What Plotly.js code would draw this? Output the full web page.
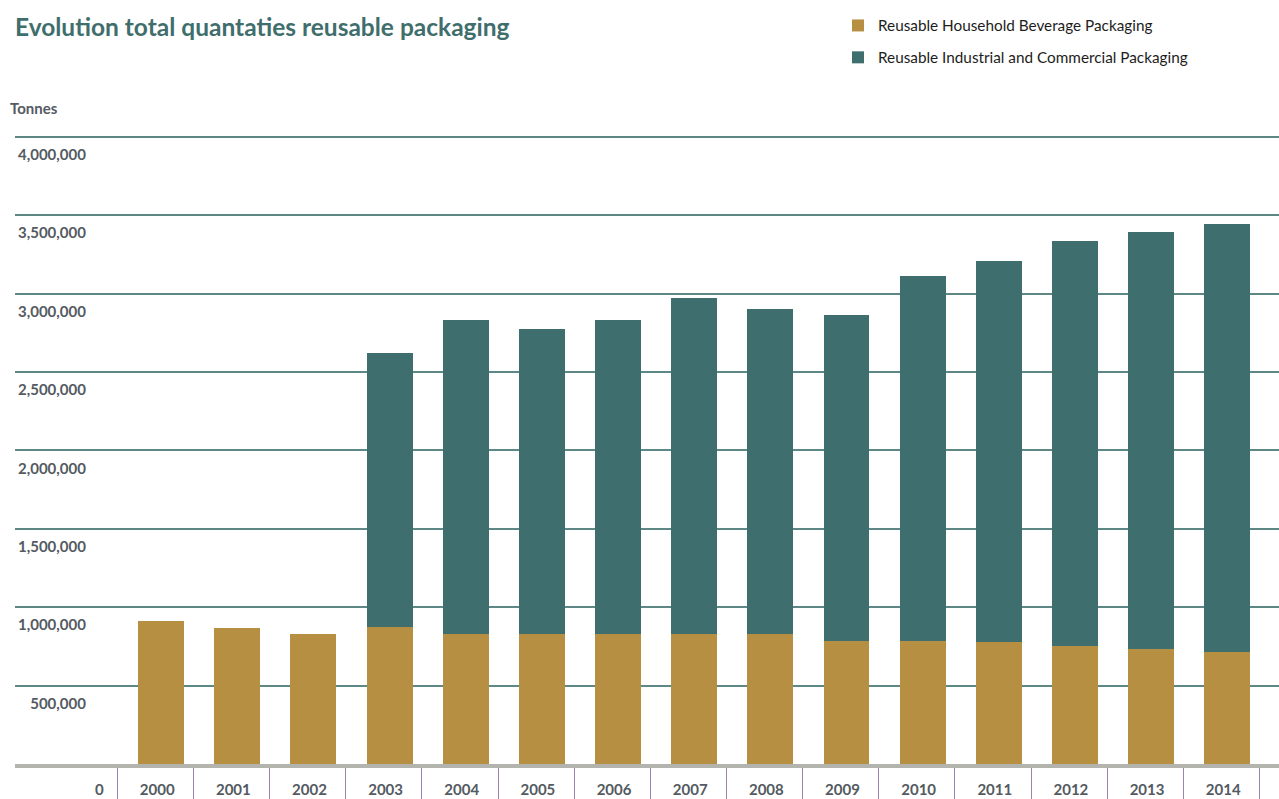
<!DOCTYPE html>
<html>
<head>
<meta charset="utf-8">
<script src="https://cdn.plot.ly/plotly-3.0.1.min.js"></script>
<style>html,body{margin:0;padding:0;background:#fff;}#chart{width:1279px;height:799px;}</style>
</head>
<body>
<div id="chart"></div>
<script>
const years = [2000, 2001, 2002, 2003, 2004, 2005, 2006, 2007, 2008, 2009, 2010, 2011, 2012, 2013, 2014];
const household = [915000, 870000, 832000, 876000, 832000, 832000, 832000, 832000, 832000, 787000, 787000, 781000, 755000, 736000, 717000];
const industrial = [null, null, null, 1747000, 2001000, 1944000, 2001000, 2141000, 2071000, 2078000, 2326000, 2428000, 2582000, 2658000, 2728000];
const yTickVals = [0, 500000, 1000000, 1500000, 2000000, 2500000, 3000000, 3500000, 4000000];
const seriesNames = ['Reusable Household Beverage Packaging', 'Reusable Industrial and Commercial Packaging'];
const titleText = 'Evolution total quantaties reusable packaging';
const yUnit = 'Tonnes';

const fmt = v => v.toLocaleString('en-US');
const gridVals = yTickVals.slice(1);
const sepVals = years.map(y => y - 0.576).concat([years[years.length - 1] + 0.424]);

const FONT = 'Lato, "Open Sans", sans-serif';
const gold = '#b68f43';
const teal = '#3e6e6d';
const labelColor = '#545a61';

const traces = [
  {type: 'bar', name: seriesNames[0], x: years, y: household, marker: {color: gold}, legendgroup: 'a'},
  {type: 'bar', name: seriesNames[1], x: years, y: industrial, marker: {color: teal}, legendgroup: 'b'},
  // empty carrier trace so the overlaying label axis is drawn
  {type: 'scatter', mode: 'none', x: [], y: [], yaxis: 'y2', showlegend: false, hoverinfo: 'skip'}
];

const plotTop = 129, plotBottom = 764, plotH = plotBottom - plotTop;

const layout = {
  width: 1279, height: 799,
  margin: {l: 15, r: 0, t: plotTop, b: 799 - plotBottom, autoexpand: false},
  paper_bgcolor: '#ffffff', plot_bgcolor: '#ffffff',
  barmode: 'stack', bargap: 0.396,
  hovermode: false,
  font: {family: FONT, color: labelColor},
  title: {
    text: titleText, xref: 'container', yref: 'container', x: 15 / 1279, xanchor: 'left',
    y: 1 - 27 / 799, yanchor: 'middle',
    font: {family: FONT, size: 24.5, weight: 700, color: '#3f6e6d'}
  },
  showlegend: true,
  legend: {
    xref: 'container', yref: 'container', x: 838 / 1279, xanchor: 'left', y: 1 - 9 / 799, yanchor: 'top',
    traceorder: 'grouped', tracegroupgap: 9, font: {family: FONT, size: 15.3, color: '#1d1d1b'},
    bgcolor: 'rgba(0,0,0,0)'
  },
  xaxis: {
    type: 'linear', range: [1998.08, 2014.68], fixedrange: true,
    tickmode: 'array', tickvals: years, ticktext: years.map(String),
    ticks: '', showgrid: false, zeroline: false,
    showline: true, linecolor: '#b4b4af', linewidth: 4,
    ticklabelshift: -4, ticklabelstandoff: 9,
    tickfont: {family: FONT, size: 15, weight: 700, color: labelColor},
    minor: {tickmode: 'array', tickvals: sepVals, ticks: 'outside', ticklen: 32, tickcolor: '#9b83b3', tickwidth: 1, showgrid: false}
  },
  yaxis: {
    range: [0, 4050000], fixedrange: true,
    tickmode: 'array', tickvals: gridVals, showticklabels: false, ticks: '',
    showgrid: true, gridcolor: '#5e8886', gridwidth: 2, zeroline: false, showline: false
  },
  yaxis2: {
    overlaying: 'y', anchor: 'free', position: 0.0561, side: 'left',
    range: [0, 4050000], fixedrange: true,
    tickmode: 'array', tickvals: gridVals, ticktext: gridVals.map(fmt), ticks: '',
    showgrid: false, zeroline: false, showline: false,
    ticklabelshift: 18, ticklabelstandoff: 0,
    tickfont: {family: FONT, size: 15, weight: 700, color: labelColor}
  },
  annotations: [
    {text: yUnit, xref: 'paper', yref: 'paper', x: -7 / 1264, xanchor: 'left', y: (plotBottom - 108) / plotH, yanchor: 'middle',
     showarrow: false, font: {family: FONT, size: 15, weight: 700, color: labelColor}},
    {text: fmt(yTickVals[0]), xref: 'paper', yref: 'y', x: 91 / 1264, xanchor: 'right', y: yTickVals[0], yanchor: 'middle',
     yshift: -25, showarrow: false, font: {family: FONT, size: 15, weight: 700, color: labelColor}}
  ]
};

Plotly.newPlot('chart', traces, layout, {displayModeBar: false, staticPlot: true});
</script>
</body>
</html>
